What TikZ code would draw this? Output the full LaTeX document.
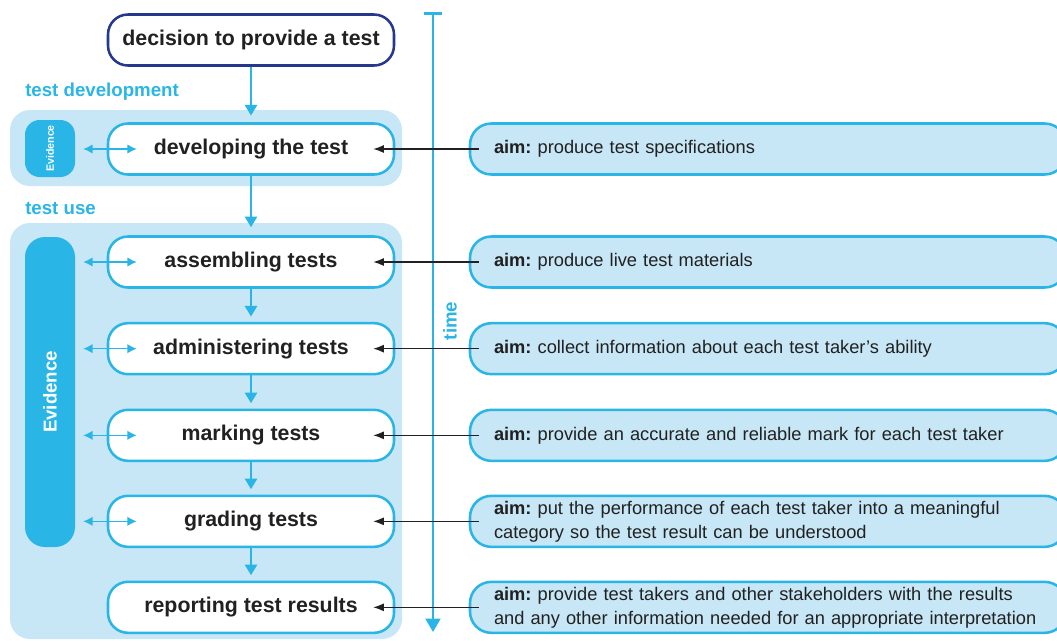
\documentclass[tikz,border=0pt]{standalone}
\usepackage{fontspec}
\setmainfont{Liberation Sans}
\usepackage{graphicx}
\usetikzlibrary{positioning}
\usetikzlibrary{arrows.meta}
\frenchspacing
\hyphenpenalty=10000
\definecolor{mycyan}{RGB}{41,181,229}
\definecolor{mylightblue}{RGB}{199,230,246}
\definecolor{mynavy}{RGB}{38,56,140}
\colorlet{mytext}{black!87}
\tikzstyle{mybox}=[rectangle, minimum height=38.25pt, text=mytext]
\tikzstyle{process}=[mybox, rounded corners=15pt, draw=mycyan, line width=1.9pt, fill=white, minimum width=214.5pt, font=\fontsize{16}{19}\selectfont\bfseries]
\tikzstyle{aim}=[mybox, rounded corners=16pt, draw=mycyan, line width=1.9pt, fill=mylightblue, text width=411pt, inner xsep=18pt, align=left, font=\fontsize{13.7}{18}\selectfont]
\tikzstyle{band}=[rectangle, rounded corners=15pt, fill=mylightblue, minimum width=294pt]
\tikzstyle{evidence}=[rectangle, fill=mycyan, text=white, minimum width=37.5pt, inner sep=0pt]
\tikzstyle{section}=[anchor=west, inner sep=0pt, text=mycyan, font=\fontsize{14}{17}\selectfont\bfseries]
\tikzstyle{flow arrow}=[-{Triangle[length=8pt,width=9pt]}, line width=1.9pt, mycyan]
\tikzstyle{evid arrow}=[{Latex[length=7pt,width=7pt]}-{Latex[length=7pt,width=7pt]}, line width=1pt, mycyan]
\tikzstyle{aim arrow}=[-{Latex[length=8pt,width=6pt]}, line width=0.8pt, mytext]

\begin{document}
\begin{tikzpicture}[
    x=0.75pt, y=-0.75pt,
    node distance=65pt,
    on grid]

\useasboundingbox (0,0) rectangle (1057,640);
\clip (0,0) rectangle (1057,640);

% background bands
\node[band, minimum height=57pt] (devband) at (206,148) {};
\node[band, minimum height=312pt] (useband) at (206,431) {};
\node[section] (devlabel) at (25,92) {test development};
\node[section] (uselabel) at (25,208) {test use};

\node[evidence, rounded corners=11pt, minimum height=42.75pt, font=\fontsize{8}{9}\selectfont\bfseries] (evid1) at (50,148.5) {\rotatebox{90}{Evidence}};
\node[evidence, rounded corners=15pt, minimum height=232.5pt, font=\fontsize{14}{17}\selectfont\bfseries] (evid2) at (50,392) {\rotatebox{90}{Evidence}};

% the process chain
\node[process, draw=mynavy] (decision) at (251,40) {decision to provide a test};
\node[process] (developing) [below=81.75pt of decision] {developing the test};
\node[process] (assembling) [below=84.75pt of developing] {assembling tests};
\node[process] (administering) [below=of assembling] {administering tests};
\node[process] (marking) [below=of administering] {marking tests};
\node[process] (grading) [below=64.5pt of marking] {grading tests};
\node[process] (reporting) [below=64.5pt of grading] {reporting test results};

% aims
\node[aim] (aim1) [right=387.75pt of developing] {\textbf{aim:} produce test specifications};
\node[aim] (aim2) [right=387.75pt of assembling] {\textbf{aim:} produce live test materials};
\node[aim] (aim3) [right=387.75pt of administering] {\textbf{aim:} collect information about each test taker’s ability};
\node[aim] (aim4) [right=387.75pt of marking] {\textbf{aim:} provide an accurate and reliable mark for each test taker};
\node[aim] (aim5) [right=387.75pt of grading] {\textbf{aim:} put the performance of each test taker into a meaningful\\category so the test result can be understood};
\node[aim] (aim6) [right=387.75pt of reporting] {\textbf{aim:} provide test takers and other stakeholders with the results\\and any other information needed for an appropriate interpretation};

% time axis
\coordinate (timetop) at (433,12);
\coordinate (timebottom) at (433,632);
\draw[mycyan, line width=1.9pt, {Bar[width=13.5pt]}-{Triangle[length=10pt,width=11pt]}] (timetop) -- (timebottom);
\node[section, rotate=90, anchor=center] (timelabel) at (450,321) {time};

\begin{scope}[flow arrow]
    \draw[shorten >=5pt] (decision) -- (developing);
    \draw[shorten >=6pt] (developing) -- (assembling);
    \draw[shorten >=4pt] (assembling) -- (administering);
    \draw[shorten >=4pt] (administering) -- (marking);
    \draw[shorten >=4pt] (marking) -- (grading);
    \draw[shorten >=4pt] (grading) -- (reporting);
\end{scope}

\draw[evid arrow] ([xshift=6pt]evid1.east |- developing.west) -- ([xshift=22.5pt]developing.west);
\foreach \P in {assembling,administering,marking,grading}{
    \draw[evid arrow] ([xshift=6pt]evid2.east |- \P.west) -- ([xshift=22.5pt]\P.west);
}

\foreach \P/\A in {developing/aim1,assembling/aim2,administering/aim3,marking/aim4,grading/aim5,reporting/aim6}{
    \draw[aim arrow] ([xshift=7.5pt]\A.west) -- ([xshift=-16.5pt]\P.east);
}

\end{tikzpicture}
\end{document}
